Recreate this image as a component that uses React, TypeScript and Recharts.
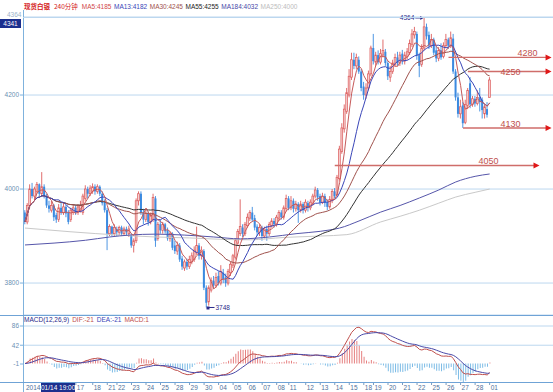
import React from "react";
import {
  ComposedChart,
  Bar,
  Line,
  XAxis,
  YAxis,
  CartesianGrid,
  ReferenceLine,
  ReferenceDot,
  Cell,
} from "recharts";

// 240-minute candles, 现货白银 (one entry per bar)
const OPEN = [
  3950, 3930, 3965, 4000, 3985, 3995, 4010, 3990, 4005, 3985,
  3965, 3955, 3965, 3945, 3935, 3960, 3950, 3962, 3950, 3935,
  3950, 3960, 3950, 3955, 3950, 3980, 4000, 3990, 3995, 4005,
  3995, 4005, 3990, 3972, 3955, 3905, 3920, 3905, 3915, 3908,
  3918, 3905, 3915, 3905, 3900, 3880, 3890, 3975, 3990, 3950,
  3935, 3948, 3930, 3935, 3980, 3895, 3925, 3912, 3925, 3912,
  3895, 3905, 3880, 3868, 3880, 3852, 3832, 3845, 3835, 3845,
  3850, 3865, 3880, 3858, 3868, 3790, 3760, 3785, 3805, 3795,
  3815, 3800, 3822, 3812, 3800, 3822, 3838, 3855, 3885, 3905,
  3918, 3905, 3922, 3938, 3950, 3938, 3920, 3908, 3918, 3900,
  3915, 3905, 3922, 3932, 3925, 3938, 3950, 3940, 3958, 3980,
  3960, 3975, 3958, 3968, 3955, 3968, 3955, 3970, 3960, 3970,
  3985, 3998, 3985, 3972, 3985, 3972, 3962, 3975, 3995, 3988,
  4022, 4080, 4128, 4165, 4200, 4238, 4275, 4262, 4275, 4250,
  4218, 4200, 4215, 4245, 4300, 4270, 4285, 4270, 4285, 4292,
  4268, 4238, 4250, 4265, 4280, 4268, 4288, 4272, 4282, 4290,
  4308, 4328, 4330, 4285, 4265, 4300, 4345, 4328, 4305, 4318,
  4295, 4278, 4295, 4282, 4305, 4318, 4305, 4320, 4250, 4195,
  4160, 4178, 4142, 4178, 4225, 4180, 4192, 4182, 4195, 4190,
  4160, 4170, 4195,
];
const HIGH = [
  3955, 3970, 4010, 4013, 4005, 4015, 4012, 4036, 4010, 3990,
  3975, 3975, 3968, 3950, 3968, 3970, 3972, 3966, 3955, 3960,
  3968, 3965, 3968, 3975, 3990, 4008, 4005, 4008, 4012, 4010,
  4010, 4008, 3995, 3978, 3960, 3925, 3922, 3925, 3920, 3922,
  3922, 3920, 3920, 3922, 3905, 3895, 3980, 3995, 3995, 3958,
  3955, 3952, 3950, 3990, 3985, 3930, 3935, 3930, 3928, 3918,
  3910, 3908, 3890, 3888, 3885, 3858, 3850, 3852, 3858, 3865,
  3878, 3920, 3885, 3878, 3872, 3795, 3795, 3812, 3815, 3822,
  3825, 3838, 3830, 3820, 3830, 3845, 3862, 3895, 3915, 3978,
  3925, 3930, 3948, 3955, 3962, 3945, 3925, 3925, 3922, 3920,
  3922, 3930, 3938, 3938, 3945, 3955, 3955, 3965, 3988, 3985,
  3985, 3980, 3975, 3972, 3975, 3972, 3978, 3975, 3978, 3990,
  4005, 4002, 3990, 3992, 3990, 3978, 3985, 4000, 4002, 4030,
  4092, 4140, 4180, 4215, 4255, 4290, 4290, 4288, 4282, 4255,
  4228, 4225, 4252, 4305, 4330, 4292, 4295, 4298, 4318, 4298,
  4272, 4262, 4275, 4288, 4292, 4292, 4296, 4292, 4300, 4318,
  4340, 4345, 4335, 4290, 4308, 4364, 4352, 4335, 4330, 4322,
  4305, 4302, 4310, 4312, 4330, 4322, 4335, 4330, 4255, 4205,
  4190, 4185, 4190, 4215, 4238, 4198, 4198, 4210, 4215, 4195,
  4180, 4185, 4238,
];
const LOW = [
  3925, 3925, 3960, 3980, 3975, 3990, 3985, 3985, 3980, 3960,
  3950, 3950, 3932, 3928, 3930, 3945, 3945, 3940, 3925, 3930,
  3945, 3945, 3945, 3950, 3945, 3975, 3980, 3985, 3990, 3988,
  3990, 3985, 3965, 3950, 3870, 3900, 3900, 3900, 3900, 3902,
  3900, 3900, 3902, 3898, 3875, 3865, 3885, 3965, 3945, 3925,
  3930, 3922, 3925, 3930, 3877, 3890, 3905, 3905, 3905, 3890,
  3888, 3870, 3862, 3860, 3845, 3828, 3826, 3828, 3830, 3840,
  3845, 3860, 3850, 3850, 3785, 3748, 3752, 3780, 3788, 3790,
  3795, 3795, 3800, 3792, 3795, 3815, 3832, 3850, 3880, 3900,
  3898, 3900, 3918, 3932, 3930, 3912, 3900, 3900, 3890, 3895,
  3890, 3900, 3918, 3918, 3920, 3932, 3935, 3935, 3952, 3955,
  3955, 3950, 3952, 3928, 3950, 3948, 3950, 3952, 3955, 3965,
  3980, 3975, 3965, 3968, 3962, 3955, 3958, 3970, 3980, 3985,
  4018, 4075, 4120, 4160, 4195, 4232, 4255, 4255, 4245, 4208,
  4190, 4192, 4210, 4240, 4265, 4262, 4265, 4265, 4280, 4262,
  4232, 4228, 4245, 4260, 4262, 4262, 4265, 4265, 4275, 4285,
  4302, 4320, 4275, 4238, 4260, 4295, 4318, 4298, 4300, 4285,
  4270, 4272, 4275, 4278, 4300, 4298, 4300, 4245, 4188, 4152,
  4150, 4130, 4138, 4170, 4172, 4175, 4175, 4178, 4165, 4150,
  4150, 4152, 4195,
];
const CLOSE = [
  3930, 3965, 4000, 3985, 4000, 4010, 3990, 4005, 3985, 3965,
  3958, 3965, 3940, 3935, 3960, 3950, 3962, 3948, 3930, 3955,
  3960, 3950, 3962, 3965, 3985, 4000, 3990, 4002, 4005, 3995,
  4005, 3990, 3970, 3955, 3905, 3920, 3905, 3918, 3908, 3918,
  3905, 3915, 3908, 3915, 3880, 3890, 3975, 3990, 3950, 3935,
  3948, 3930, 3945, 3982, 3890, 3925, 3912, 3925, 3910, 3895,
  3905, 3875, 3868, 3880, 3850, 3835, 3845, 3835, 3850, 3858,
  3870, 3880, 3858, 3870, 3790, 3758, 3790, 3805, 3795, 3812,
  3800, 3825, 3808, 3800, 3825, 3840, 3858, 3890, 3910, 3920,
  3905, 3925, 3940, 3950, 3935, 3918, 3908, 3918, 3900, 3915,
  3905, 3925, 3932, 3925, 3940, 3950, 3940, 3960, 3980, 3960,
  3975, 3958, 3968, 3955, 3968, 3955, 3972, 3960, 3972, 3985,
  3998, 3982, 3972, 3985, 3970, 3962, 3978, 3995, 3985, 4025,
  4085, 4130, 4170, 4205, 4240, 4275, 4262, 4280, 4250, 4215,
  4200, 4215, 4245, 4300, 4272, 4285, 4270, 4288, 4295, 4268,
  4240, 4250, 4268, 4280, 4268, 4285, 4272, 4285, 4292, 4310,
  4330, 4335, 4285, 4262, 4300, 4345, 4325, 4305, 4318, 4290,
  4278, 4295, 4280, 4305, 4318, 4305, 4322, 4250, 4195, 4160,
  4175, 4140, 4180, 4210, 4180, 4192, 4182, 4195, 4185, 4168,
  4175, 4158, 4232,
];

// long averages (bar index -> value)
const MA184_AT = [0, 12, 25, 35, 43, 54, 66, 78, 89, 101, 112, 122, 126, 130, 138, 147, 155, 163, 171, 178, 186, 192];
const MA184_VAL = [3881, 3885, 3891, 3898, 3902, 3904, 3902, 3898, 3894, 3898, 3905, 3910, 3913, 3917, 3932, 3951, 3965, 3981, 3998, 4015, 4027, 4032];
const MA250_AT = [0, 19, 39, 54, 68, 81, 93, 107, 122, 133, 147, 155, 163, 171, 178, 186, 192];
const MA250_VAL = [3917, 3909, 3902, 3898, 3896, 3893, 3892, 3897, 3900, 3903, 3930, 3942, 3955, 3970, 3983, 3993, 4000];

// date axis
const DAY_TICKS = [0, 21, 28, 34, 38, 44, 50, 56, 62, 68, 74, 80, 86, 92, 98, 104, 109, 116, 122, 128, 134, 140, 144, 150, 156, 162, 168, 174, 180, 186, 192];
const DAY_LABELS = ["2014", "17", "18", "21", "22", "23", "24", "25", "28", "29", "30", "04", "05", "06", "07", "08", "11", "12", "13", "14", "15", "18", "19", "20", "21", "22", "25", "26", "27", "28", "01"];

// drawn support / resistance levels
const LEVELS = [4280, 4250, 4130, 4050];
const LEVEL_FROM = [175, 183, 181, 128];
const LEVEL_TO = [217.6, 217.6, 217.6, 212.6];

const STEP = 2.42;
const X_DOMAIN: [number, number] = [(23 - 25) / STEP, (553 - 25) / STEP];
const RED = "#dc5c5c";
const BLUE = "#3b8ae0";
const FONT = '"Liberation Sans", Arial, sans-serif';

function sma(src: number[], n: number) {
  return src.map((_, i) => {
    const s = Math.max(0, i - n + 1);
    let t = 0;
    for (let k = s; k <= i; k++) t += src[k];
    return t / (i - s + 1);
  });
}
function ema(src: number[], n: number) {
  const a = 2 / (n + 1);
  const out: number[] = [];
  src.forEach((v, i) => out.push(i === 0 ? v : out[i - 1] + a * (v - out[i - 1])));
  return out;
}

const ma5 = sma(CLOSE, 5);
const ma13 = sma(CLOSE, 13);
const ma30 = sma(CLOSE, 30);
const ma55 = sma(CLOSE, 55);
const e12 = ema(CLOSE, 12);
const e26 = ema(CLOSE, 26);
const dif = e12.map((v, i) => v - e26[i]);
const dea = ema(dif, 9);

const rows = CLOSE.map((c, i) => {
  const a = MA184_AT.indexOf(i);
  const b = MA250_AT.indexOf(i);
  return {
    i,
    o: OPEN[i],
    h: HIGH[i],
    l: LOW[i],
    c,
    range: [LOW[i], HIGH[i]],
    ma5: ma5[i],
    ma13: ma13[i],
    ma30: ma30[i],
    ma55: ma55[i],
    ma184: a >= 0 ? MA184_VAL[a] : null,
    ma250: b >= 0 ? MA250_VAL[b] : null,
    dif: dif[i],
    dea: dea[i],
    macd: 2 * (dif[i] - dea[i]),
  };
});

const Candle = (props: any) => {
  const { x, y, width, height, payload } = props;
  if (x == null || y == null) return null;
  const top = Math.min(y, y + height);
  const bot = Math.max(y, y + height);
  const span = payload.h - payload.l || 1;
  const yo = top + ((payload.h - payload.o) / span) * (bot - top);
  const yc = top + ((payload.h - payload.c) / span) * (bot - top);
  const cx = x + width / 2;
  const up = payload.c >= payload.o;
  const color = up ? RED : BLUE;
  const bt = Math.min(yo, yc);
  const bh = Math.max(Math.abs(yc - yo), 1);
  return (
    <g>
      <line x1={cx} x2={cx} y1={top} y2={bot} stroke={color} strokeWidth={0.9} />
      {up ? (
        <rect x={cx - 0.9} y={bt} width={1.8} height={bh} fill="#f6d2d2" stroke={color} strokeWidth={0.7} />
      ) : (
        <rect x={cx - 1} y={bt} width={2} height={bh} fill={color} />
      )}
    </g>
  );
};

function levelShape(label: string, dx: number, dy: number) {
  return (p: any) => {
    const { x1, y1, x2 } = p;
    return (
      <g>
        <line x1={x1} y1={y1} x2={x2 - 5} y2={y1} stroke="#cf6d6a" strokeWidth={1.4} />
        <polygon points={`${x2},${y1} ${x2 - 6},${y1 - 3} ${x2 - 6},${y1 + 3}`} fill="#e01818" />
        <text x={x2 + dx} y={y1 + dy} fontSize={9} fill="#c0504d" textAnchor="middle" fontFamily={FONT}>
          {label}
        </text>
      </g>
    );
  };
}
const LABEL_DX = [-24, -41, -41, -51];
const LABEL_DY = [-1, 3, -1, -2];

const HighMark = (p: any) => (
  <g>
    <line x1={p.cx - 9} y1={p.cy} x2={p.cx - 2} y2={p.cy} stroke="#2a2a8a" strokeWidth={1} />
    <polygon points={`${p.cx - 1},${p.cy} ${p.cx - 4},${p.cy - 2} ${p.cx - 4},${p.cy + 2}`} fill="#2a2a8a" />
    <text x={p.cx - 10} y={p.cy + 2} fontSize={6.5} fill="#2a2a8a" textAnchor="end" fontFamily={FONT}>4364</text>
  </g>
);
const LowMark = (p: any) => (
  <g>
    <rect x={p.cx} y={p.cy - 1} width={3} height={3} fill="#2a2a8a" />
    <line x1={p.cx + 2} y1={p.cy} x2={p.cx + 8} y2={p.cy} stroke="#2a2a8a" strokeWidth={1} />
    <text x={p.cx + 9} y={p.cy + 2.5} fontSize={6.5} fill="#2a2a8a" fontFamily={FONT}>3748</text>
  </g>
);

const DateTick = (props: any) => {
  const { x, y, payload } = props;
  const k = DAY_TICKS.indexOf(payload.value);
  return (
    <g>
      {k > 0 && <line x1={x} x2={x} y1={y} y2={y + 3} stroke="#7a9cc0" />}
      <text x={x + 1} y={y + 8} fontSize={6.5} fill="#4f6f9a" fontFamily={FONT}>
        {DAY_LABELS[k]}
      </text>
    </g>
  );
};

const abs = (l: number, t: number, extra: React.CSSProperties = {}): React.CSSProperties => ({
  position: "absolute",
  left: l,
  top: t,
  whiteSpace: "nowrap",
  ...extra,
});

export default function App() {
  const axisTick = { fontSize: 6.5, fill: "#6b8fb3", fontFamily: FONT };
  return (
    <div style={{ position: "fixed", left: 0, top: 0, width: 553, height: 392, background: "#fff", overflow: "hidden", fontFamily: FONT }}>
      <div style={abs(0, 0)}>
        <ComposedChart width={553} height={316} data={rows} margin={{ top: 17, right: 0, bottom: 1, left: 0 }}>
          <CartesianGrid vertical={false} stroke="#bcd7ef" />
          <XAxis type="number" dataKey="i" domain={X_DOMAIN} allowDataOverflow hide />
          <YAxis
            domain={[3732, 4366]}
            allowDataOverflow
            ticks={[3800, 4000, 4200]}
            width={23}
            axisLine={false}
            tickSize={3}
            tickMargin={1}
            tickLine={{ stroke: "#7fb2dd" }}
            tick={axisTick}
          />
          <Bar dataKey="range" shape={Candle} barSize={2} isAnimationActive={false} />
          <Line dataKey="ma250" stroke="#c9c9c9" dot={false} strokeWidth={1} connectNulls type="monotone" isAnimationActive={false} />
          <Line dataKey="ma184" stroke="#5656aa" dot={false} strokeWidth={1} connectNulls type="monotone" isAnimationActive={false} />
          <Line dataKey="ma55" stroke="#333333" dot={false} strokeWidth={1} isAnimationActive={false} />
          <Line dataKey="ma30" stroke="#a0524d" dot={false} strokeWidth={1} isAnimationActive={false} />
          <Line dataKey="ma13" stroke="#3a46b8" dot={false} strokeWidth={1} isAnimationActive={false} />
          <Line dataKey="ma5" stroke="#c65a5a" dot={false} strokeWidth={1} isAnimationActive={false} />
          {LEVELS.map((v, k) => (
            <ReferenceLine
              key={v}
              segment={[{ x: LEVEL_FROM[k], y: v }, { x: LEVEL_TO[k], y: v }]}
              shape={levelShape(String(v), LABEL_DX[k], LABEL_DY[k])}
              ifOverflow="visible"
            />
          ))}
          <ReferenceDot x={165} y={4364} shape={HighMark} ifOverflow="visible" />
          <ReferenceDot x={75} y={3748} shape={LowMark} ifOverflow="visible" />
        </ComposedChart>
      </div>

      <div style={abs(0, 315)}>
        <ComposedChart width={553} height={77} data={rows} margin={{ top: 0, right: 0, bottom: 0, left: 0 }}>
          <XAxis
            type="number"
            dataKey="i"
            domain={X_DOMAIN}
            allowDataOverflow
            ticks={DAY_TICKS}
            interval={0}
            height={10}
            axisLine={false}
            tickLine={false}
            tickSize={0}
            tickMargin={0}
            tick={DateTick}
          />
          <YAxis
            domain={[-42.2, 111.2]}
            allowDataOverflow
            ticks={[-1, 42, 86]}
            width={23}
            axisLine={false}
            tickSize={3}
            tickMargin={1}
            tickLine={{ stroke: "#7fb2dd" }}
            tick={axisTick}
          />
          <ReferenceLine y={86} stroke="#bcd7ef" />
          <ReferenceLine y={42} stroke="#bcd7ef" />
          <Bar dataKey="macd" barSize={1} isAnimationActive={false}>
            {rows.map((r) => (
              <Cell key={r.i} fill={r.macd >= 0 ? "#e68080" : "#7dbce6"} />
            ))}
          </Bar>
          <Line dataKey="dif" stroke="#c0504d" dot={false} strokeWidth={1} isAnimationActive={false} />
          <Line dataKey="dea" stroke="#4a4aa8" dot={false} strokeWidth={1} isAnimationActive={false} />
        </ComposedChart>
      </div>

      {/* frame lines */}
      <div style={abs(23, 10, { width: 1, height: 382, background: "#7fb2dd" })} />
      <div style={abs(23, 17, { width: 530, height: 1, background: "#bcd7ef" })} />
      <div style={abs(0, 315, { width: 553, height: 1, background: "#6fa3d6" })} />
      <div style={abs(0, 382, { width: 553, height: 1, background: "#6fa3d6" })} />

      {/* header */}
      <div style={abs(24, 2, { fontSize: 6.5, lineHeight: "9px" })}>
        <span style={{ color: "#d42020", fontFamily: '"Noto Sans CJK SC", sans-serif', fontWeight: 700, marginRight: 4 }}>现货白银</span>
        <span style={{ color: "#d42020", fontFamily: '"Noto Sans CJK SC", sans-serif', marginRight: 4 }}>240分钟</span>
        <span style={{ color: "#d04848", marginRight: 2.5 }}>MA5:4185</span>
        <span style={{ color: "#3a46b8", marginRight: 2.5 }}>MA13:4182</span>
        <span style={{ color: "#a0524d", marginRight: 2.5 }}>MA30:4245</span>
        <span style={{ color: "#222", marginRight: 2.5 }}>MA55:4255</span>
        <span style={{ color: "#4848a8", marginRight: 2.5 }}>MA184:4032</span>
        <span style={{ color: "#bdbdbd" }}>MA250:4000</span>
      </div>
      <div style={abs(7, 11, { fontSize: 6.5, color: "#9db3c9", lineHeight: "7px" })}>4364</div>
      <div style={abs(0, 19, { width: 21, height: 9, background: "#1b2f8e", color: "#fff", fontSize: 6.5, lineHeight: "9px", textAlign: "center" })}>4341</div>

      <div style={abs(24, 316, { fontSize: 6.5, lineHeight: "8px" })}>
        <span style={{ color: "#2a2a8a", marginRight: 3 }}>MACD(12,26,9)</span>
        <span style={{ color: "#c0504d", marginRight: 3 }}>DIF:-21</span>
        <span style={{ color: "#3a46b8", marginRight: 3 }}>DEA:-21</span>
        <span style={{ color: "#c0504d" }}>MACD:1</span>
      </div>
      <div style={abs(41, 383, { width: 34, height: 9, background: "#1b2f8e", color: "#fff", fontSize: 6.5, lineHeight: "9px", textAlign: "center" })}>01/14 19:00</div>
    </div>
  );
}
